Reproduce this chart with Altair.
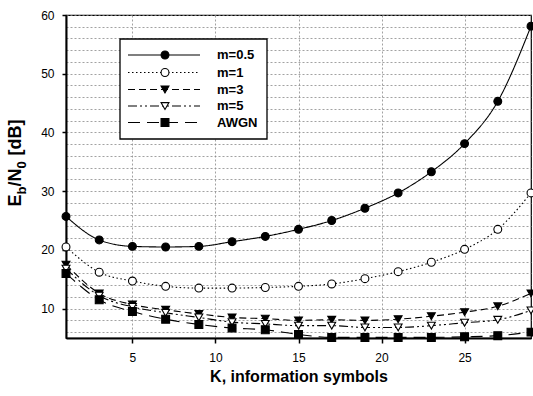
import altair as alt
import pandas as pd

# ---- data ----
K = [1, 3, 5, 7, 9, 11, 13, 15, 17, 19, 21, 23, 25, 27, 29]
series_names = ["m=0.5", "m=1", "m=3", "m=5", "AWGN"]
m05 = [25.7, 21.7, 20.6, 20.5, 20.6, 21.4, 22.3, 23.5, 25.0, 27.1, 29.7, 33.3, 38.1, 45.3, 58.1]
m1 = [20.5, 16.2, 14.7, 13.8, 13.5, 13.5, 13.6, 13.8, 14.2, 15.1, 16.3, 17.9, 20.1, 23.5, 29.7]
m3 = [17.5, 12.6, 10.7, 9.8, 9.1, 8.5, 8.3, 8.0, 8.1, 8.0, 8.2, 8.7, 9.4, 10.4, 12.6]
m5 = [16.8, 12.2, 10.3, 9.3, 8.5, 7.7, 7.4, 7.1, 7.1, 6.8, 6.8, 7.1, 7.6, 8.1, 9.7]
awgn = [16.0, 11.5, 9.5, 8.2, 7.3, 6.7, 6.4, 5.6, 5.1, 5.1, 5.1, 5.1, 5.2, 5.4, 6.0]
all_series = [m05, m1, m3, m5, awgn]

x_ticks = [5, 10, 15, 20, 25]
y_grid = list(range(6, 61, 2))

rows = []
for name, vals in zip(series_names, all_series):
    for k, v in zip(K, vals):
        rows.append({"K": k, "EbN0": v, "series": name})
df = pd.DataFrame(rows)

FONT = "Liberation Sans"

dash_scale = alt.Scale(domain=series_names,
                       range=[[1, 0], [1.5, 2.5], [7, 4], [9, 3, 2, 3, 2, 3], [12, 7]])
shape_scale = alt.Scale(domain=series_names,
                        range=["circle", "circle", "triangle-down", "triangle-down", "square"])
fill_scale = alt.Scale(domain=series_names,
                       range=["black", "white", "black", "white", "black"])

x_enc = alt.X("K:Q",
              scale=alt.Scale(domain=[1, 29], nice=False, zero=False),
              axis=alt.Axis(values=x_ticks, tickCount=100, format="d", title="K, information symbols",
                            titleFontSize=16, titleFontWeight="bold", titleFont=FONT,
                            titlePadding=5, labelPadding=9, tickSize=5,
                            grid=True, gridDash=[2, 2], gridColor="#8a8a8a", gridWidth=0.8))
y_enc = alt.Y("EbN0:Q",
              scale=alt.Scale(domain=[5, 60], nice=False, zero=False),
              axis=alt.Axis(values=y_grid, tickCount=100, format="d", title=None, labelOverlap=False,
                            labelExpr="datum.value % 10 === 0 ? datum.label : ''",
                            tickOpacity={"condition": {"test": "datum.value % 10 === 0", "value": 1}, "value": 0},
                            tickSize=4, labelPadding=8,
                            grid=True, gridDash=[2, 2], gridColor="#8a8a8a", gridWidth=0.8))

lines = alt.Chart(df).mark_line(interpolate="monotone", color="black", strokeWidth=1.1).encode(
    x=x_enc, y=y_enc,
    strokeDash=alt.StrokeDash("series:N", scale=dash_scale, legend=None),
)
points = alt.Chart(df).mark_point(filled=True, stroke="black", strokeWidth=1.1, size=62, opacity=1).encode(
    x="K:Q", y="EbN0:Q",
    shape=alt.Shape("series:N", scale=shape_scale, legend=None),
    fill=alt.Fill("series:N", scale=fill_scale, legend=None),
)

# ---- custom legend box (inside plot, top-left) ----
layers = [lines, points]
box = alt.Chart(alt.Data(values=[{}])).mark_rect(fill="white", stroke="black", strokeWidth=1.3).encode(
    x=alt.value(54), x2=alt.value(201), y=alt.value(24), y2=alt.value(124))
layers.append(box)
row_y = [40, 57.5, 74.5, 91, 107.5]
for name, ry in zip(series_names, row_y):
    base = alt.Chart(alt.Data(values=[{"series": name}]))
    layers.append(base.mark_rule(color="black", strokeWidth=1.1).encode(
        x=alt.value(62), x2=alt.value(134), y=alt.value(ry),
        strokeDash=alt.StrokeDash("series:N", scale=dash_scale, legend=None)))
    layers.append(base.mark_point(filled=True, stroke="black", strokeWidth=1.1, size=62, opacity=1).encode(
        x=alt.value(99), y=alt.value(ry),
        shape=alt.Shape("series:N", scale=shape_scale, legend=None),
        fill=alt.Fill("series:N", scale=fill_scale, legend=None)))
    layers.append(base.mark_text(align="left", baseline="middle", font=FONT, fontSize=13,
                                 fontWeight="bold", color="black").encode(
        x=alt.value(151), y=alt.value(ry), text="series:N"))

# ---- y-axis title with subscripts: E_b/N_0 [dB] ----
MAIN, SUB = 18, 13
W = {"E": 0.667, "b": 0.611, "/": 0.278, "N": 0.722, "0": 0.556, " ": 0.278,
     "[": 0.333, "d": 0.611, "B": 0.722, "]": 0.333}
# (text, size, is_subscript, extra gap before in em of main font)
pieces = [("E", MAIN, False, 0), ("b", SUB, True, 0), ("/N", MAIN, False, 0),
          ("0", SUB, True, 0), ("[dB]", MAIN, False, 0.33)]
total = sum(sum(W[c] for c in t) * s + g * MAIN for t, s, _, g in pieces)
center_y = 148
ypos = center_y + total / 2
for t, s, sub, g in pieces:
    ypos -= g * MAIN
    layers.append(alt.Chart(alt.Data(values=[{"t": t}])).mark_text(
        align="left", baseline="alphabetic", angle=270, font=FONT, fontSize=s,
        fontWeight="bold", color="black").encode(
        x=alt.value(-40 if sub else -45), y=alt.value(ypos), text="t:N"))
    ypos -= sum(W[c] for c in t) * s

chart = alt.layer(*layers).properties(
    width=465, height=323,
    autosize=alt.AutoSizeParams(type="none"),
    padding={"left": 66, "top": 15, "right": 2, "bottom": 58},
    background="white",
).configure_view(stroke="black", strokeWidth=1.2).configure_axis(
    domainColor="black", domainWidth=2, tickColor="black", tickWidth=1.5,
    labelFont=FONT, labelFontSize=12, labelColor="black", titleColor="black",
)

chart.save("out.html", embed_options={"renderer": "svg", "actions": False})
